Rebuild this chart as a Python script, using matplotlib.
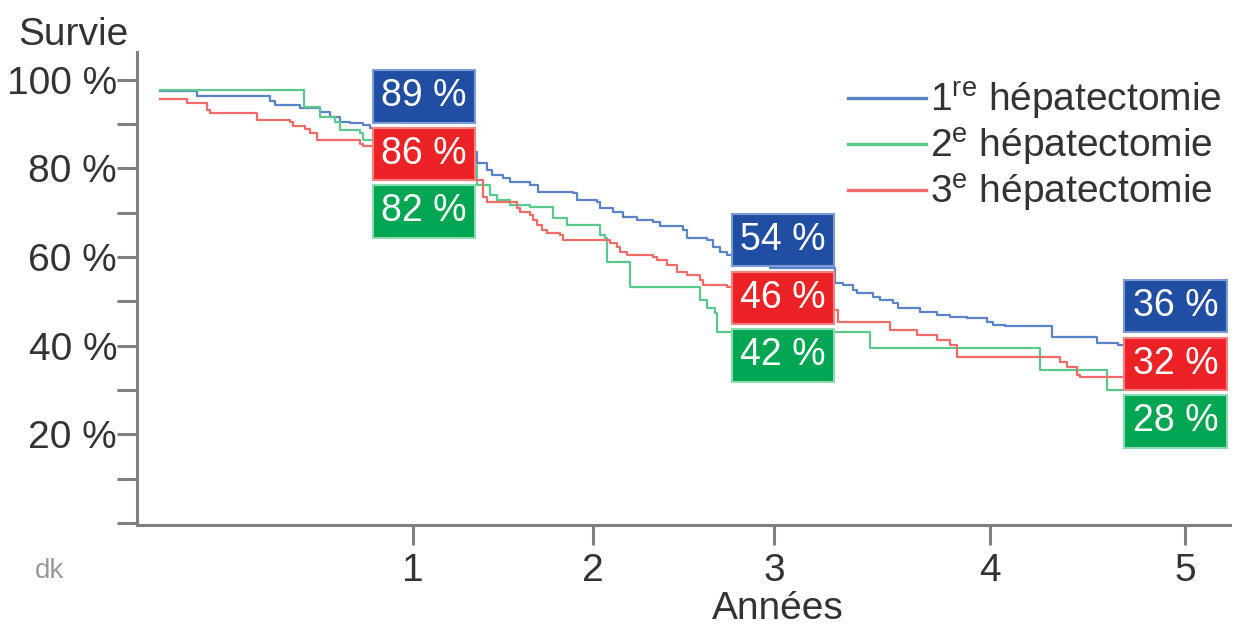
import numpy as np
import matplotlib
matplotlib.use('Agg')
import matplotlib.pyplot as plt
from matplotlib.lines import Line2D

plt.rcParams['font.family'] = ['Liberation Sans', 'DejaVu Sans']
plt.rcParams['mathtext.fontset'] = 'custom'
plt.rcParams['mathtext.rm'] = 'Liberation Sans'

# survival curves (years, % alive)
t_1 = [0, 0.146, 0.435, 0.455, 0.553, 0.632, 0.672, 0.711, 0.751, 0.802, 0.830, 0.949, 1.15, 1.356, 1.411,
       1.439, 1.5, 1.539, 1.65, 1.694, 1.889, 1.911, 2.022, 2.039, 2.11, 2.166, 2.243, 2.331, 2.37, 2.497,
       2.519, 2.63, 2.663, 2.702, 2.74, 2.978, 3.282, 3.319, 3.366, 3.384, 3.458, 3.491, 3.551, 3.574, 3.676,
       3.755, 3.815, 3.894, 3.986, 4.015, 4.077, 4.318, 4.549, 4.656, 5.0]
s_1 = [97.5, 96.4, 95.3, 94.4, 93.7, 92.8, 91.6, 90.5, 90.3, 89.8, 89.2, 86.4, 83.7, 81.2, 79.7,
       78.5, 77.9, 77.0, 76.3, 74.7, 74.5, 72.9, 72.4, 71.1, 70.2, 69.0, 68.4, 67.9, 67.0, 66.1,
       64.3, 63.8, 62.3, 61.1, 60.5, 57.5, 54.1, 53.7, 52.5, 51.9, 51.0, 50.3, 49.6, 48.5, 47.6,
       46.9, 46.4, 46.2, 45.3, 44.6, 44.4, 41.9, 40.6, 40.1, 40.1]

t_2 = [0, 0.569, 0.632, 0.692, 0.711, 0.79, 0.802, 1.039, 1.356, 1.428, 1.467, 1.539, 1.65, 1.778,
       1.856, 2.039, 2.066, 2.077, 2.204, 2.591, 2.63, 2.674, 2.685, 3.444, 4.256, 4.6, 5.0]
s_2 = [97.7, 93.9, 91.6, 90.5, 88.7, 88.0, 86.4, 80.8, 76.3, 74.0, 72.9, 71.8, 71.3, 68.8,
       67.2, 65.0, 64.3, 58.9, 53.2, 50.3, 48.5, 47.3, 43.0, 39.4, 34.5, 29.9, 29.9]

t_3 = [0, 0.107, 0.186, 0.198, 0.383, 0.514, 0.526, 0.573, 0.593, 0.621, 0.791, 0.802, 1.039, 1.261,
       1.389, 1.411, 1.578, 1.594, 1.65, 1.667, 1.689, 1.717, 1.744, 1.817, 1.833, 2.094, 2.133, 2.149,
       2.188, 2.331, 2.354, 2.409, 2.464, 2.519, 2.591, 2.608, 2.74, 2.923, 3.12, 3.296, 3.537, 3.662,
       3.755, 3.815, 3.847, 4.359, 4.395, 4.446, 4.462, 5.0]
s_3 = [95.7, 94.8, 93.2, 92.5, 91.0, 90.5, 89.6, 88.9, 88.0, 86.4, 85.5, 85.1, 81.9, 77.4,
       73.6, 72.4, 71.1, 70.2, 69.5, 68.4, 67.2, 66.1, 65.4, 65.0, 63.8, 63.2, 62.3, 61.1,
       60.5, 60.0, 59.3, 58.2, 56.6, 55.9, 54.8, 53.7, 53.2, 51.4, 48.0, 45.3, 43.5, 42.4,
       41.2, 40.1, 37.4, 36.3, 35.1, 33.3, 32.9, 32.9]

labels = ['1$^{\\mathrm{re}}$ hépatectomie', '2$^{\\mathrm{e}}$ hépatectomie', '3$^{\\mathrm{e}}$ hépatectomie']
year_ticks = [1, 2, 3, 4, 5]
marked_years = [1, 3, 5]
marked_surv = [[89, 86, 82], [54, 46, 42], [36, 32, 28]]

line_colors = ['#5b84c8', '#5cc98c', '#f26b6b']
box_colors = ['#1f4ea3', '#ec2227', '#00a651']
box_edges = ['#7d9bd6', '#f48080', '#8adbb0']

# the original x axis is not evenly spaced: map years onto its drawn spacing
yr_knots = np.array([-1, 0, 1, 2, 3, 4, 5, 6])
pos_knots = np.array([-253, 0, 253, 433, 614, 830, 1025, 1220])


def fwd(x):
    return np.interp(x, yr_knots, pos_knots)


def inv(p):
    return np.interp(p, pos_knots, yr_knots)


fig = plt.figure(figsize=(12.37, 6.28), dpi=100)
ax = fig.add_axes([0.1108, 0.164, 0.8836, 0.7532])
ax.set_xscale('function', functions=(fwd, inv))

for t, s, c in zip([t_1, t_2, t_3], [s_1, s_2, s_3], line_colors):
    ax.step(t, s, where='post', color=c, lw=1.6, zorder=2)

ax.set_xlim(-0.091, 5.23)
ax.set_ylim(-0.5, 106.3)

# stacked value boxes next to each marked year
box_x = [1.06, 3.04, 4.95]
box_top = [96.3, 63.8, 48.9]
for j in range(len(marked_years)):
    for i in range(3):
        ax.text(box_x[j], box_top[j] - 13 * i, f'{marked_surv[j][i]} %', ha='center', va='center',
                fontsize=27, color='white', zorder=5,
                bbox=dict(boxstyle='square,pad=0.22', fc=box_colors[i], ec=box_edges[i], lw=1.5))

gray = '#808080'
for side in ['top', 'right']:
    ax.spines[side].set_visible(False)
for side in ['left', 'bottom']:
    ax.spines[side].set_color(gray)
    ax.spines[side].set_linewidth(2.2)

ax.set_xticks(year_ticks)
ax.set_xticklabels([str(y) for y in year_ticks])
yt = list(range(0, 101, 10))
ax.set_yticks(yt)
ax.set_yticklabels([f'{v} %' if v >= 20 and v % 20 == 0 else '' for v in yt])
ax.tick_params(axis='both', length=14.4, width=2.2, color=gray, labelsize=28, labelcolor='#333333')
ax.tick_params(axis='y', pad=0)
ax.tick_params(axis='x', pad=6)

ax.text(0.586, -0.199, 'Années', transform=ax.transAxes, ha='center', va='baseline',
        fontsize=28, color='#333333')
fig.text(0.0146, 0.928, 'Survie', ha='left', va='baseline', fontsize=28, color='#333333')
fig.text(0.028, 0.08, 'dk', ha='left', va='baseline', fontsize=20, color='#999999')

handles = [Line2D([], [], color=c, lw=2.4) for c in line_colors]
ax.legend(handles, labels, loc='upper left', bbox_to_anchor=(0.6855, 0.873), bbox_transform=fig.transFigure,
          frameon=False, fontsize=28, handlelength=2.0, handletextpad=0.1, labelspacing=0.1,
          borderpad=0, borderaxespad=0, labelcolor='#333333')

fig.savefig('out.png', dpi=100)
